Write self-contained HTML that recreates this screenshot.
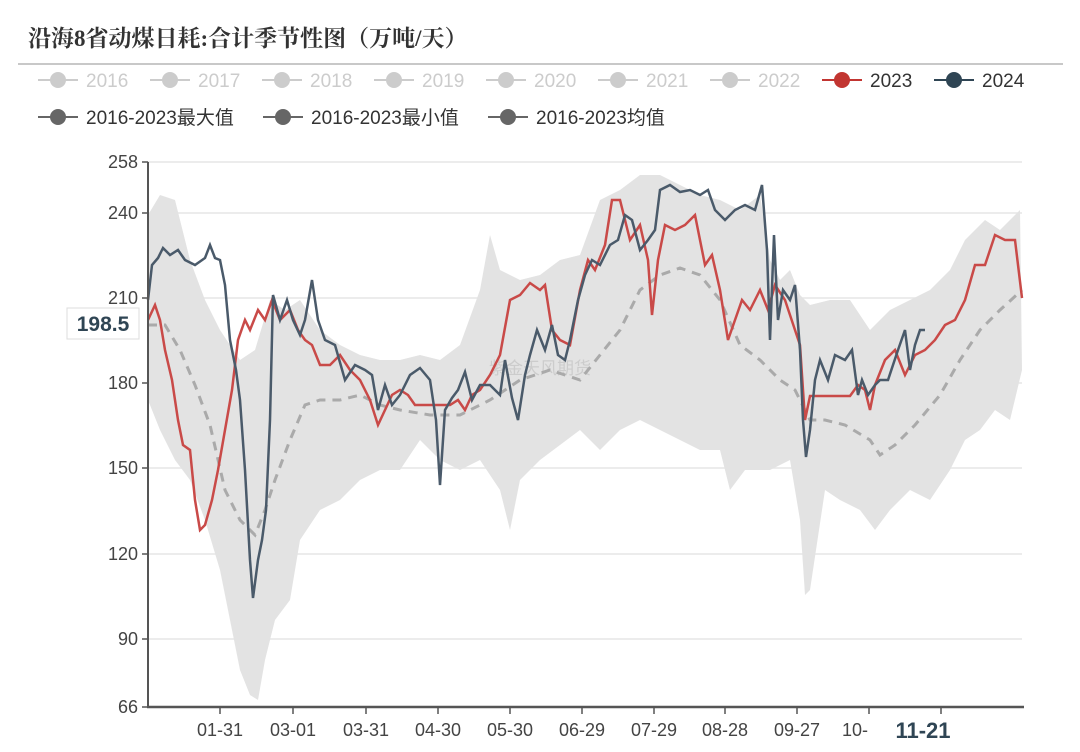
<!DOCTYPE html><html><head><meta charset="utf-8"><style>
body{margin:0;background:#fff;width:1080px;height:747px;overflow:hidden}
svg{font-family:"Liberation Sans","Noto Sans CJK SC",sans-serif}
</style></head><body>
<svg width="1080" height="747" viewBox="0 0 1080 747">
<text x="28" y="46" font-size="23" font-weight="bold" fill="#333" font-family="Liberation Serif,Noto Serif CJK SC,serif">沿海8省动煤日耗:合计季节性图（万吨/天）</text>
<line x1="18" y1="64" x2="1063" y2="64" stroke="#c8c8c8" stroke-width="2"/>
<g font-size="19">
<g fill="#ccc" stroke="#ccc">
<line x1="38" y1="80" x2="78" y2="80" stroke-width="2"/><circle cx="58" cy="80" r="8" stroke="none"/><text x="86" y="87" stroke="none">2016</text>
<line x1="150" y1="80" x2="190" y2="80" stroke-width="2"/><circle cx="170" cy="80" r="8" stroke="none"/><text x="198" y="87" stroke="none">2017</text>
<line x1="262" y1="80" x2="302" y2="80" stroke-width="2"/><circle cx="282" cy="80" r="8" stroke="none"/><text x="310" y="87" stroke="none">2018</text>
<line x1="374" y1="80" x2="414" y2="80" stroke-width="2"/><circle cx="394" cy="80" r="8" stroke="none"/><text x="422" y="87" stroke="none">2019</text>
<line x1="486" y1="80" x2="526" y2="80" stroke-width="2"/><circle cx="506" cy="80" r="8" stroke="none"/><text x="534" y="87" stroke="none">2020</text>
<line x1="598" y1="80" x2="638" y2="80" stroke-width="2"/><circle cx="618" cy="80" r="8" stroke="none"/><text x="646" y="87" stroke="none">2021</text>
<line x1="710" y1="80" x2="750" y2="80" stroke-width="2"/><circle cx="730" cy="80" r="8" stroke="none"/><text x="758" y="87" stroke="none">2022</text>
</g>
<line x1="822" y1="80" x2="862" y2="80" stroke="#c23531" stroke-width="2"/><circle cx="842" cy="80" r="8" fill="#c23531"/><text x="870" y="87" fill="#333">2023</text>
<line x1="934" y1="80" x2="974" y2="80" stroke="#2f4554" stroke-width="2"/><circle cx="954" cy="80" r="8" fill="#2f4554"/><text x="982" y="87" fill="#333">2024</text>
<g fill="#666" stroke="#666">
<line x1="38" y1="117" x2="78" y2="117" stroke-width="2"/><circle cx="58" cy="117" r="8" stroke="none"/>
<line x1="263" y1="117" x2="303" y2="117" stroke-width="2"/><circle cx="283" cy="117" r="8" stroke="none"/>
<line x1="488" y1="117" x2="528" y2="117" stroke-width="2"/><circle cx="508" cy="117" r="8" stroke="none"/>
</g>
<text x="86" y="124" fill="#333">2016-2023最大值</text>
<text x="311" y="124" fill="#333">2016-2023最小值</text>
<text x="536" y="124" fill="#333">2016-2023均值</text>
</g>
<g stroke="#e6e6e6" stroke-width="1.5">
<line x1="148" y1="162" x2="1022" y2="162"/><line x1="148" y1="213" x2="1022" y2="213"/><line x1="148" y1="298" x2="1022" y2="298"/><line x1="148" y1="383" x2="1022" y2="383"/><line x1="148" y1="468" x2="1022" y2="468"/><line x1="148" y1="554" x2="1022" y2="554"/><line x1="148" y1="639" x2="1022" y2="639"/>
</g>
<polygon fill="#e3e3e3" points="148,215 160,195 175,200 190,260 205,300 220,330 240,360 255,350 270,300 285,310 300,300 320,330 340,345 360,355 380,360 400,360 420,355 440,360 460,345 480,290 490,235 500,270 520,280 540,275 560,260 580,255 600,200 620,190 640,175 660,175 680,185 700,195 720,200 740,210 760,195 770,260 780,280 790,270 800,295 810,305 830,300 850,300 870,330 890,310 910,300 930,290 950,270 965,240 985,220 1000,230 1020,210 1022,370 1010,420 995,410 980,430 965,440 950,470 930,500 910,490 890,510 875,530 860,510 840,500 825,490 810,590 805,595 800,520 790,460 770,470 760,470 745,470 730,490 720,450 700,450 680,440 660,430 640,420 620,430 600,450 580,430 560,445 540,460 520,480 510,530 500,490 480,460 460,470 440,460 420,440 400,470 380,470 360,480 340,500 320,510 300,540 290,600 275,620 265,660 258,700 250,695 240,670 230,620 220,570 205,520 190,480 175,460 160,430 148,400"/>
<text x="540" y="374" font-size="17" fill="#ccc" text-anchor="middle">紫金天风期货</text>
<polyline fill="none" stroke="#aaa" stroke-width="3" stroke-dasharray="9,7" points="148,325 165,325 180,350 195,385 210,425 225,490 240,520 255,535 265,510 275,480 290,440 305,405 320,400 340,400 360,395 380,405 400,410 430,415 460,415 490,400 520,380 550,370 580,380 600,355 620,330 640,290 660,275 680,268 700,275 720,300 740,345 760,360 780,380 795,390 810,420 825,420 845,425 870,440 880,455 895,445 915,425 940,395 960,360 980,330 1000,310 1022,290"/>
<polyline fill="none" stroke="#c94a48" stroke-width="2.5" points="148,320 155,305 160,320 165,350 172,380 178,420 183,445 190,450 195,500 200,530 205,525 212,500 218,470 225,430 232,390 238,340 245,320 250,330 258,310 265,320 272,300 280,320 290,310 298,330 305,340 312,345 320,365 330,365 340,355 350,370 360,380 370,400 378,425 385,410 392,395 400,390 408,395 415,405 425,405 440,405 450,405 458,400 465,410 472,395 480,390 490,375 500,355 510,300 520,295 530,283 540,290 545,285 552,330 560,340 570,345 580,290 588,260 595,270 605,245 612,200 620,200 630,240 640,225 648,260 652,315 658,260 665,225 675,230 685,225 695,215 705,265 712,255 720,290 728,340 735,320 742,300 750,310 760,290 768,310 775,285 785,300 795,330 800,345 805,420 810,396 830,396 850,396 858,385 865,390 870,410 875,385 885,360 895,350 905,375 915,355 925,350 935,340 945,325 955,320 965,300 975,265 985,265 995,235 1005,240 1015,240 1022,298"/>
<polyline fill="none" stroke="#4a5a6a" stroke-width="2.5" points="148,300 152,265 158,258 163,248 170,255 178,250 185,260 195,265 205,258 210,245 215,258 220,260 225,285 230,340 236,370 240,400 245,470 250,560 253,598 258,560 262,540 266,510 270,420 273,295 280,320 287,300 293,320 300,335 305,320 312,280 318,320 325,340 335,345 345,380 355,365 365,370 372,375 378,410 385,385 392,405 400,395 410,375 420,368 430,380 436,420 440,485 445,410 452,398 458,390 465,372 472,400 480,385 490,385 500,395 505,360 512,398 518,420 525,375 530,355 537,330 545,350 552,325 558,355 565,360 570,340 578,300 585,275 592,260 600,265 610,245 618,240 625,215 632,220 640,250 648,240 655,230 660,190 670,185 680,192 690,190 700,195 708,190 715,210 725,220 735,210 745,205 755,210 762,185 767,250 770,340 774,235 778,320 783,290 790,300 795,285 800,350 803,420 806,457 810,430 815,380 820,360 828,380 835,355 845,360 852,350 858,395 862,380 868,395 875,385 880,380 888,380 898,350 905,330 910,370 915,345 920,330 925,330"/>
<line x1="148" y1="162" x2="148" y2="708" stroke="#555" stroke-width="2"/>
<line x1="147" y1="707" x2="1024" y2="707" stroke="#555" stroke-width="2.5"/>
<g stroke="#555" stroke-width="1.5">
<line x1="142" y1="162" x2="148" y2="162"/><line x1="142" y1="213" x2="148" y2="213"/><line x1="142" y1="298" x2="148" y2="298"/><line x1="142" y1="383" x2="148" y2="383"/><line x1="142" y1="468" x2="148" y2="468"/><line x1="142" y1="554" x2="148" y2="554"/><line x1="142" y1="639" x2="148" y2="639"/><line x1="142" y1="707" x2="148" y2="707"/>
<line x1="220" y1="707" x2="220" y2="714"/><line x1="293" y1="707" x2="293" y2="714"/><line x1="366" y1="707" x2="366" y2="714"/><line x1="438" y1="707" x2="438" y2="714"/><line x1="510" y1="707" x2="510" y2="714"/><line x1="582" y1="707" x2="582" y2="714"/><line x1="654" y1="707" x2="654" y2="714"/><line x1="725" y1="707" x2="725" y2="714"/><line x1="797" y1="707" x2="797" y2="714"/><line x1="869" y1="707" x2="869" y2="714"/><line x1="941" y1="707" x2="941" y2="714"/>
</g>
<g font-size="18" fill="#444" text-anchor="end">
<text x="138" y="168">258</text><text x="138" y="219">240</text><text x="138" y="304">210</text><text x="138" y="389">180</text><text x="138" y="474">150</text><text x="138" y="560">120</text><text x="138" y="645">90</text><text x="138" y="713">66</text>
</g>
<rect x="67" y="308" width="72" height="31" fill="#fff" stroke="#ddd"/>
<text x="103" y="331" font-size="21" font-weight="bold" fill="#2f4554" text-anchor="middle">198.5</text>
<g font-size="18" fill="#444" text-anchor="middle">
<text x="220" y="736">01-31</text><text x="293" y="736">03-01</text><text x="366" y="736">03-31</text><text x="438" y="736">04-30</text><text x="510" y="736">05-30</text><text x="582" y="736">06-29</text><text x="654" y="736">07-29</text><text x="725" y="736">08-28</text><text x="797" y="736">09-27</text><text x="855" y="736">10-</text>
<text x="923" y="738" font-size="22" font-weight="bold" fill="#2f4554">11-21</text>
</g>
</svg>
</body></html>
